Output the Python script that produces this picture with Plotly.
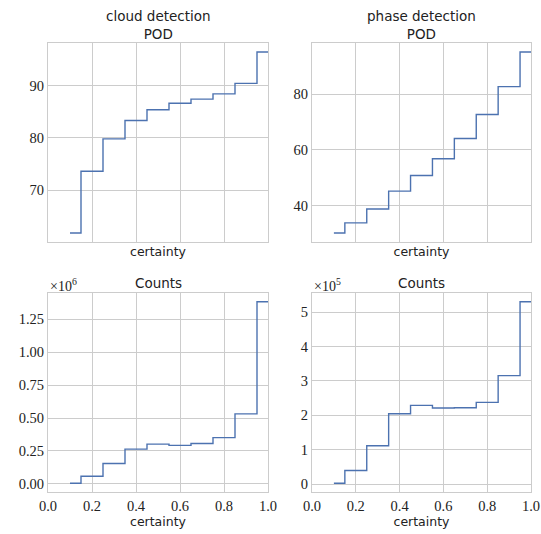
import numpy as np
import plotly.graph_objects as go

certainty = [0.1, 0.2, 0.3, 0.4, 0.5, 0.6, 0.7, 0.8, 0.9, 1.0]
cloud_pod = [61.8, 73.6, 79.8, 83.3, 85.35, 86.6, 87.4, 88.4, 90.4, 96.4]
phase_pod = [30.2, 33.8, 38.8, 45.2, 50.8, 56.8, 64.1, 72.7, 82.7, 95.1]
cloud_counts = [5000, 58000, 155000, 264000, 302000, 292000, 307000, 351000, 531000, 1382000]
phase_counts = [3000, 39800, 111700, 204900, 229000, 221400, 222000, 237900, 315500, 530000]

col_titles = ["cloud detection<br>POD", "phase detection<br>POD"]
bottom_title = "Counts"
xlabel = "certainty"

BLUE = "#4C72B0"
GRID = "#cccccc"
W, H = 541, 534

xdom = [[48 / W, 268 / W], [312 / W, 531 / W]]
ydom = [[1 - 242 / H, 1 - 43 / H], [1 - 492.3 / H, 1 - 292.7 / H]]

def rng(v):
    lo, hi = min(v), max(v)
    m = (hi - lo) * 0.05
    return [lo - m, hi + m]

fig = go.Figure()
panels = [
    (cloud_pod, 0, 0, [70, 80, 90], ["70", "80", "90"]),
    (phase_pod, 1, 0, [40, 60, 80], ["40", "60", "80"]),
    (cloud_counts, 0, 1, [0, 0.25e6, 0.5e6, 0.75e6, 1.0e6, 1.25e6],
     ["0.00", "0.25", "0.50", "0.75", "1.00", "1.25"]),
    (phase_counts, 1, 1, [0, 1e5, 2e5, 3e5, 4e5, 5e5], ["0", "1", "2", "3", "4", "5"]),
]
serif = dict(family="Liberation Serif", size=14.5, color="#222222")
sans = "DejaVu Sans"
for i, (vals, c, r, tv, tt) in enumerate(panels):
    n = "" if i == 0 else str(i + 1)
    fig.add_trace(go.Scatter(x=certainty, y=vals, mode="lines", line_shape="hvh",
                             line=dict(color=BLUE, width=1.4),
                             xaxis="x" + n, yaxis="y" + n, showlegend=False))
    fig.layout["xaxis" + n] = dict(
        domain=xdom[c], anchor="y" + n, range=[0, 1], automargin=False,
        tickvals=[0, 0.2, 0.4, 0.6, 0.8, 1.0],
        ticktext=["0.0", "0.2", "0.4", "0.6", "0.8", "1.0"],
        showticklabels=(r == 1), tickfont=serif,
        showgrid=True, gridcolor=GRID, gridwidth=1, zeroline=False,
        showline=True, linecolor=GRID, linewidth=1, mirror=True,
        title=dict(text=xlabel, font=dict(family=sans, size=12.5, color="#222222"),
                   standoff=(3 if r == 1 else 5)),
    )
    fig.layout["yaxis" + n] = dict(
        domain=ydom[r], anchor="x" + n, range=rng(vals), automargin=False,
        tickvals=tv, ticktext=tt, tickfont=serif,
        showgrid=True, gridcolor=GRID, gridwidth=1, zeroline=False,
        showline=True, linecolor=GRID, linewidth=1, mirror=True,
    )

ann = []
for c in range(2):
    xc = (xdom[c][0] + xdom[c][1]) / 2
    ann.append(dict(text=col_titles[c], x=xc, y=1 - 25 / H, xref="paper", yref="paper",
                    showarrow=False, font=dict(family=sans, size=13.5, color="#222222"),
                    xanchor="center", yanchor="middle"))
    ann.append(dict(text=bottom_title, x=xc, y=1 - 283 / H, xref="paper", yref="paper",
                    showarrow=False, font=dict(family=sans, size=13.5, color="#222222"),
                    xanchor="center", yanchor="middle"))
offs = dict(family="Liberation Serif", size=14, color="#222222")
ann.append(dict(text="×10<sup>6</sup>", x=xdom[0][0], y=1 - 285 / H, xref="paper", yref="paper",
                showarrow=False, font=offs, xanchor="left", yanchor="middle"))
ann.append(dict(text="×10<sup>5</sup>", x=xdom[1][0], y=1 - 285 / H, xref="paper", yref="paper",
                showarrow=False, font=offs, xanchor="left", yanchor="middle"))
fig.update_layout(width=W, height=H, margin=dict(l=0, r=0, t=0, b=0),
                  paper_bgcolor="white", plot_bgcolor="white", annotations=ann)
fig.write_html("out.html")
